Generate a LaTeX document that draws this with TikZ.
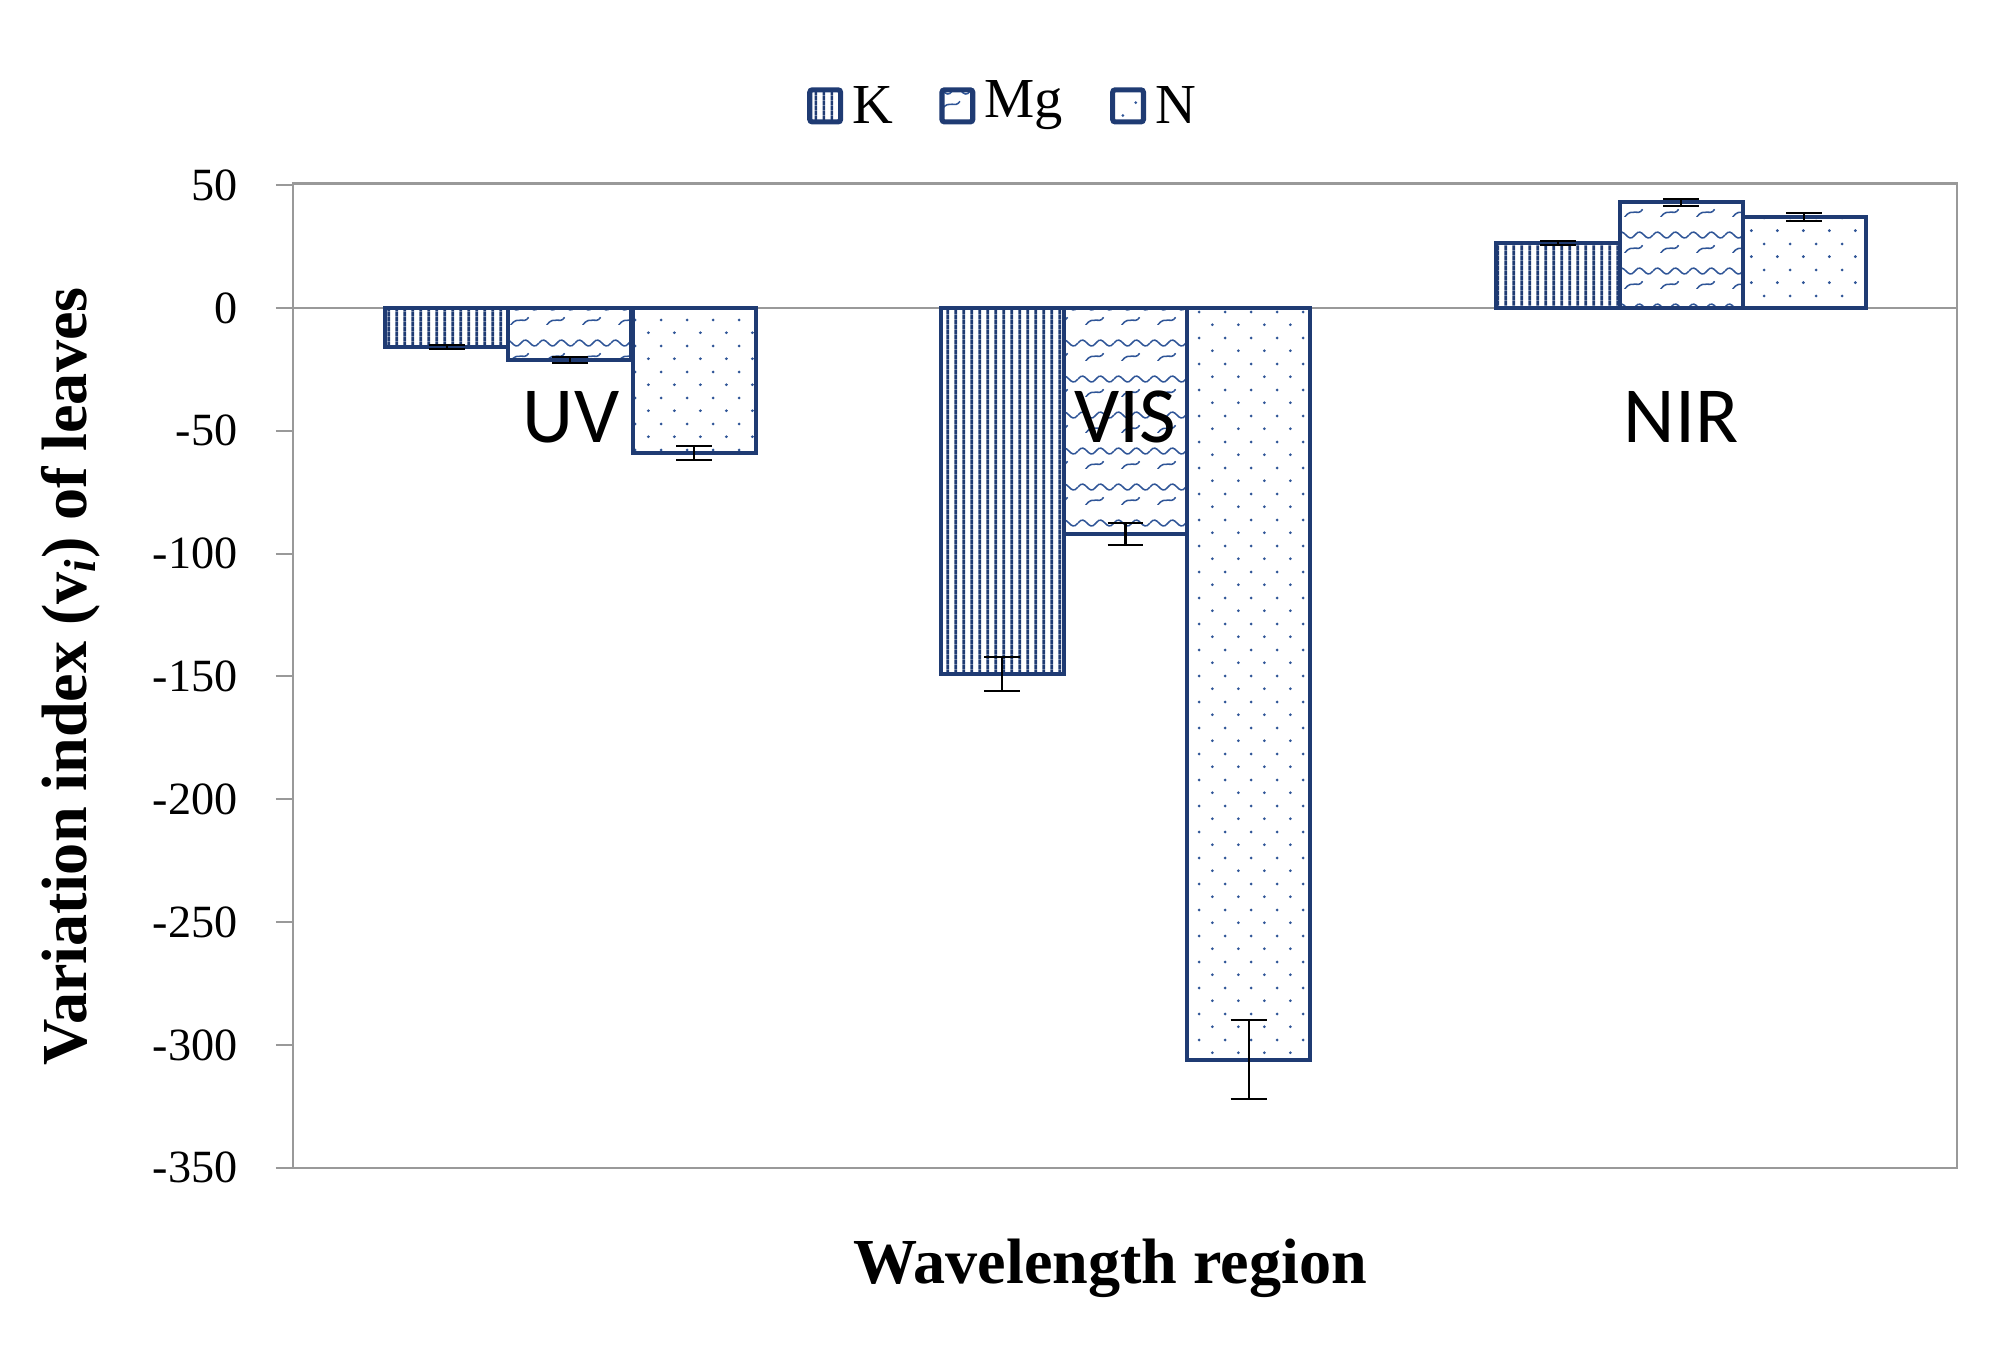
\documentclass[tikz,border=0pt]{standalone}
\usepackage{fontspec}
\setmainfont{Liberation Serif}
\newfontfamily\calfont{Carlito}
\usetikzlibrary{patterns.meta}
\definecolor{bd}{HTML}{1F3B73}
\definecolor{bm}{HTML}{2F5597}
\tikzdeclarepattern{name=kstr,type=uncolored,bounding box={(0,0) and (3.2pt,2pt)},tile size={(3.2pt,2pt)},
  code={\draw[line width=1.1pt] (1.6pt,-0.1pt)--(1.6pt,2.1pt);}}
\tikzdeclarepattern{name=mgw,type=uncolored,bounding box={(0,0) and (14pt,14pt)},tile size={(14pt,14pt)},
  code={\draw[line width=0.6pt] (0,7pt) .. controls (3pt,11pt) and (4pt,3pt) .. (7pt,7pt) .. controls (10pt,11pt) and (11pt,3pt) .. (14pt,7pt);
        \draw[line width=0.6pt] (3pt,0) .. controls (6pt,4pt) and (8pt,0pt) .. (10pt,3pt);}}
\tikzdeclarepattern{name=ndot,type=uncolored,bounding box={(0,0) and (10pt,10pt)},tile size={(10pt,10pt)},
  code={\fill (2.5pt,2.5pt) circle (0.6pt); \fill (7.5pt,7.5pt) circle (0.6pt);}}
\tikzset{barK/.style={draw=bd,line width=1.5pt,pattern={kstr},pattern color=bd},
 barM/.style={draw=bd,line width=1.5pt,pattern={mgw},pattern color=bm},
 barN/.style={draw=bd,line width=1.5pt,pattern={ndot},pattern color=bm},
 tick/.style={anchor=east,font=\fontsize{18pt}{20pt}\selectfont},
 eb/.style={line width=0.8pt}}
\newcommand\mybar[4]{%
  \pgfmathsetmacro\ytop{240-1.914*#3}%
  \pgfmathsetmacro\ya{240-1.914*(#3-#4)}%
  \pgfmathsetmacro\yb{240-1.914*(#3+#4)}%
  \draw[#1] (#2-48,240) rectangle (#2+48,\ytop);
  \draw[eb] (#2,\ya) -- (#2,\yb) (#2-14,\ya) -- (#2+14,\ya) (#2-14,\yb) -- (#2+14,\yb);}
\begin{document}
\begin{tikzpicture}[x=0.5pt,y=-0.5pt]
\useasboundingbox (0,0) rectangle (1560,1065);
\draw[gray!80,line width=0.8pt] (228,143) rectangle (1525,910);
\draw[gray!80,line width=0.8pt] (228,240) -- (1525,240);
\foreach \v in {50,0,-50,-100,-150,-200,-250,-300,-350}{
  \pgfmathsetmacro\yy{240-1.914*\v}
  \draw[gray!80,line width=0.8pt] (215,\yy) -- (228,\yy);
  \node[tick] (t\v) at (192,\yy) {\v};}
\mybar{barK}{348}{-16}{0.8}
\mybar{barM}{444}{-21}{1.2}
\mybar{barN}{541}{-59}{3}
\mybar{barK}{781}{-149}{7}
\mybar{barM}{877}{-92}{4.5}
\mybar{barN}{973}{-306}{16}
\mybar{barK}{1214}{26.5}{0.8}
\mybar{barM}{1310}{43}{1.5}
\mybar{barN}{1406}{37}{1.5}
\node[font=\calfont\fontsize{31pt}{33pt}\selectfont] (uv) at (445,325) {UV};
\node[font=\calfont\fontsize{31pt}{33pt}\selectfont] (vis) at (877,325) {VIS};
\node[font=\calfont\fontsize{31pt}{33pt}\selectfont] (nir) at (1310,325) {NIR};
\node[font=\bfseries\fontsize{25pt}{27pt}\selectfont] (xt) at (865,988) {Wavelength region};
\node[rotate=90,font=\bfseries\fontsize{25pt}{27pt}\selectfont] (yt) at (55,527) {Variation index (v\textsubscript{\textit{i}}) of leaves};
\draw[barK,line width=2pt,rounded corners=1pt] (631,70) rectangle (655,95);
\node[anchor=west,font=\fontsize{22pt}{24pt}\selectfont] (lk) at (657,82) {K};
\draw[barM,line width=2pt,rounded corners=1pt] (734,70) rectangle (758,95);
\node[anchor=west,font=\fontsize{22pt}{24pt}\selectfont] (lm) at (760,82) {Mg};
\draw[barN,line width=2pt,rounded corners=1pt] (867,70) rectangle (891,95);
\node[anchor=west,font=\fontsize{22pt}{24pt}\selectfont] (ln) at (893,82) {N};
\end{tikzpicture}
\end{document}
